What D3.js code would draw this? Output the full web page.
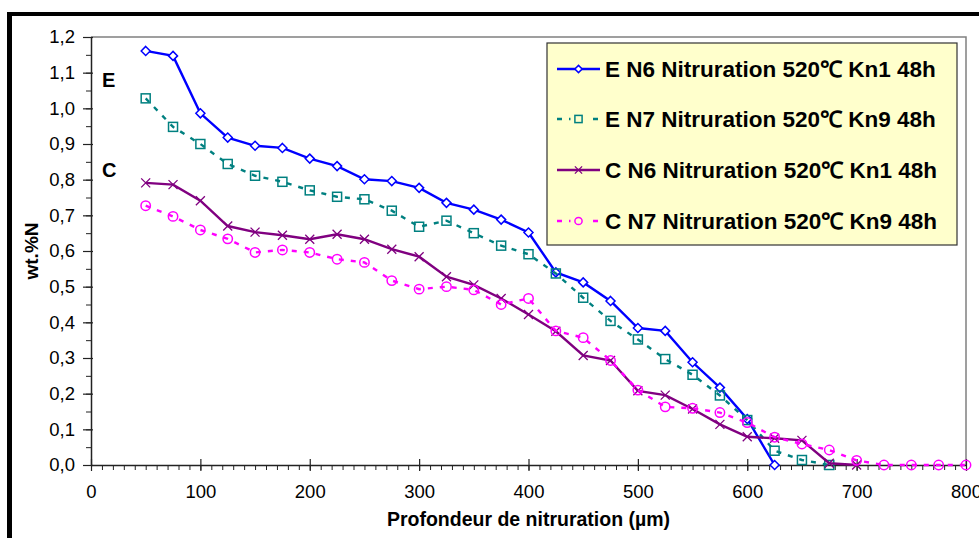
<!DOCTYPE html>
<html>
<head>
<meta charset="utf-8">
<script src="https://cdnjs.cloudflare.com/ajax/libs/d3/7.8.5/d3.min.js"></script>
<style>
  body { margin: 0; background: #fff; }
  svg { font-family: "Liberation Sans", Arial, sans-serif; display: block; }
</style>
</head>
<body>
<div class="viz"></div>
<script>
var width = 979, height = 538;
var margin = { top: 37, left: 91, right: 13, bottom: 73 };

// depth (µm) and wt.%N for each profile
var depth = [50, 75, 100, 125, 150, 175, 200, 225, 250, 275, 300, 325, 350, 375, 400,
    425, 450, 475, 500, 525, 550, 575, 600, 625, 650, 675, 700, 725, 750, 775, 800];
var eN6 = [1.161, 1.147, 0.986, 0.918, 0.895, 0.889, 0.859, 0.838, 0.801, 0.796, 0.777, 0.735,
    0.716, 0.688, 0.652, 0.540, 0.512, 0.460, 0.384, 0.376, 0.288, 0.217, 0.129, 0.0];
var eN7 = [1.028, 0.948, 0.900, 0.844, 0.811, 0.794, 0.770, 0.752, 0.745, 0.713, 0.668, 0.685,
    0.650, 0.615, 0.591, 0.537, 0.469, 0.404, 0.352, 0.297, 0.253, 0.195, 0.126, 0.040, 0.014, 0.0];
var cN6 = [0.791, 0.786, 0.741, 0.670, 0.653, 0.644, 0.633, 0.647, 0.633, 0.605, 0.584, 0.528,
    0.505, 0.467, 0.422, 0.375, 0.307, 0.293, 0.208, 0.196, 0.157, 0.114, 0.079, 0.075, 0.069,
    0.005, 0.0];
var cN7 = [0.727, 0.697, 0.659, 0.634, 0.596, 0.603, 0.596, 0.577, 0.568, 0.517, 0.493, 0.500,
    0.491, 0.450, 0.467, 0.376, 0.357, 0.293, 0.210, 0.163, 0.159, 0.147, 0.119, 0.078, 0.059,
    0.042, 0.013, 0.0, 0.0, 0.0, 0.0];

var seriesNames = ["E N6 Nitruration 520\u2103 Kn1 48h", "E N7 Nitruration 520\u2103 Kn9 48h",
    "C N6 Nitruration 520\u2103 Kn1 48h", "C N7 Nitruration 520\u2103 Kn9 48h"];
var seriesValues = [eN6, eN7, cN6, cN7];
var seriesColors = ["#0000ff", "#008080", "#800080", "#ff00ff"];
var seriesMarkers = ["diamond", "square", "cross", "circle"];
var seriesDash = [null, "5,7", null, "5,7"];
var markerSize = [4.5, 4.5, 4.5, 4.7];

var xMajor = [0, 100, 200, 300, 400, 500, 600, 700, 800];
var yMajor = [0, 0.1, 0.2, 0.3, 0.4, 0.5, 0.6, 0.7, 0.8, 0.9, 1.0, 1.1, 1.2];

var svg = d3.select('.viz').append('svg')
    .attr('width', width)
    .attr('height', height);

var x = d3.scaleLinear().domain([0, 800]).range([margin.left, width - margin.right]);
var y = d3.scaleLinear().domain([0, 1.2]).range([height - margin.bottom, margin.top]);

var comma = d3.formatLocale({ decimal: ",", thousands: " ", grouping: [3], currency: ["", ""] }).format(".1f");

// outer frame (cropped on right and bottom)
svg.append('line').attr('x1', 7).attr('x2', width).attr('y1', 14).attr('y2', 14)
    .attr('stroke', '#000').attr('stroke-width', 4);
svg.append('line').attr('x1', 9.5).attr('x2', 9.5).attr('y1', 12).attr('y2', height)
    .attr('stroke', '#000').attr('stroke-width', 5);

// plot area border top / right
svg.append('path')
    .attr('d', 'M' + x(0) + ',' + y(1.2) + 'H' + x(800) + 'V' + y(0))
    .attr('fill', 'none').attr('stroke', '#808080').attr('stroke-width', 1.5);

// minor ticks
var xMinor = d3.range(0, 801, 10);
var yMinor = d3.range(0, 1.2001, 0.05);

svg.append('g')
    .attr('transform', 'translate(0,' + y(0) + ')')
    .call(d3.axisBottom(x).tickValues(xMinor).tickSize(5).tickFormat(''))
    .call(g => g.select('.domain').remove())
    .selectAll('line').attr('stroke', '#222');

svg.append('g')
    .attr('transform', 'translate(' + x(0) + ',0)')
    .call(d3.axisLeft(y).tickValues(yMinor).tickSize(5).tickFormat(''))
    .call(g => g.select('.domain').remove())
    .selectAll('line').attr('stroke', '#222');

// major axes
var xAxis = svg.append('g')
    .attr('transform', 'translate(0,' + y(0) + ')')
    .call(d3.axisBottom(x).tickValues(xMajor).tickSizeInner(6).tickSizeOuter(0).tickPadding(14));
xAxis.selectAll('.tick line').attr('y1', -6);
xAxis.select('.domain').attr('stroke', '#222').attr('stroke-width', 1.5);
xAxis.selectAll('line').attr('stroke', '#222').attr('stroke-width', 1.2);
xAxis.selectAll('text').attr('font-size', 18.5).attr('fill', '#000')
    .attr('font-family', '"Liberation Sans", Arial, sans-serif');

var yAxis = svg.append('g')
    .attr('transform', 'translate(' + x(0) + ',0)')
    .call(d3.axisLeft(y).tickValues(yMajor).tickSizeInner(8).tickSizeOuter(0).tickPadding(8).tickFormat(comma));
yAxis.selectAll('.tick line').attr('x1', 2);
yAxis.select('.domain').attr('stroke', '#222').attr('stroke-width', 1.5);
yAxis.selectAll('line').attr('stroke', '#222').attr('stroke-width', 1.2);
yAxis.selectAll('text').attr('font-size', 18.5).attr('fill', '#000')
    .attr('font-family', '"Liberation Sans", Arial, sans-serif');

// axis titles
svg.append('text')
    .attr('x', (x(0) + x(800)) / 2).attr('y', 526)
    .attr('text-anchor', 'middle').attr('font-size', 19.5).attr('font-weight', 'bold')
    .text('Profondeur de nitruration (\u00b5m)');

svg.append('text')
    .attr('transform', 'translate(38,' + ((y(0) + y(1.2)) / 2) + ') rotate(-90)')
    .attr('text-anchor', 'middle').attr('font-size', 19).attr('font-weight', 'bold')
    .text('wt.%N');

// E / C annotations
svg.append('text').attr('x', 102).attr('y', 87).attr('font-size', 20).attr('font-weight', 'bold').text('E');
svg.append('text').attr('x', 102).attr('y', 177).attr('font-size', 20).attr('font-weight', 'bold').text('C');

function drawMarker(sel, type, color, r) {
    if (type === 'diamond') {
        sel.append('path').attr('d', 'M0,' + (-r) + 'L' + r + ',0L0,' + r + 'L' + (-r) + ',0Z')
            .attr('fill', '#fff').attr('stroke', color).attr('stroke-width', 1.5);
    } else if (type === 'square') {
        sel.append('rect').attr('x', -r).attr('y', -r).attr('width', 2 * r).attr('height', 2 * r)
            .attr('fill', 'none').attr('stroke', color).attr('stroke-width', 1.5);
    } else if (type === 'cross') {
        sel.append('path').attr('d', 'M' + (-r) + ',' + (-r) + 'L' + r + ',' + r + 'M' + r + ',' + (-r) + 'L' + (-r) + ',' + r)
            .attr('fill', 'none').attr('stroke', color).attr('stroke-width', 1.3);
    } else {
        sel.append('circle').attr('r', r)
            .attr('fill', 'none').attr('stroke', color).attr('stroke-width', 1.5);
    }
}

var line = d3.line().x(d => x(d[0])).y(d => y(d[1]));

seriesValues.forEach(function (vals, i) {
    var pts = vals.map((v, j) => [depth[j], v]);
    var g = svg.append('g').attr('class', 'series');
    g.append('path')
        .datum(pts)
        .attr('d', line)
        .attr('fill', 'none')
        .attr('stroke', seriesColors[i])
        .attr('stroke-width', 2.4)
        .attr('stroke-dasharray', seriesDash[i]);
    g.selectAll('.pt')
        .data(pts)
        .enter().append('g')
        .attr('class', 'pt')
        .attr('transform', d => 'translate(' + x(d[0]) + ',' + y(d[1]) + ')')
        .each(function () { drawMarker(d3.select(this), seriesMarkers[i], seriesColors[i], markerSize[i]); });
});

// legend
var lg = svg.append('g').attr('class', 'legend');
lg.append('rect')
    .attr('x', 547).attr('y', 43).attr('width', 410).attr('height', 202)
    .attr('fill', '#ffffcc').attr('stroke', '#333').attr('stroke-width', 1.2);

var rowY = [69, 119, 170, 221];
seriesNames.forEach(function (name, i) {
    var row = lg.append('g').attr('transform', 'translate(0,' + rowY[i] + ')');
    row.append('line')
        .attr('x1', 557).attr('x2', 600).attr('y1', 0).attr('y2', 0)
        .attr('stroke', seriesColors[i]).attr('stroke-width', 2.4)
        .attr('stroke-dasharray', seriesDash[i]);
    var m = row.append('g').attr('transform', 'translate(578.5,0)');
    if (seriesDash[i]) {
        m.append('rect').attr('x', -8).attr('y', -5).attr('width', 16).attr('height', 10).attr('fill', '#ffffcc');
    }
    drawMarker(m, seriesMarkers[i], seriesColors[i], 3.6);
    row.append('text')
        .attr('x', 605).attr('y', 8)
        .attr('font-size', 22.5).attr('font-weight', 'bold').attr('fill', '#000')
        .text(name);
});
</script>
</body>
</html>
